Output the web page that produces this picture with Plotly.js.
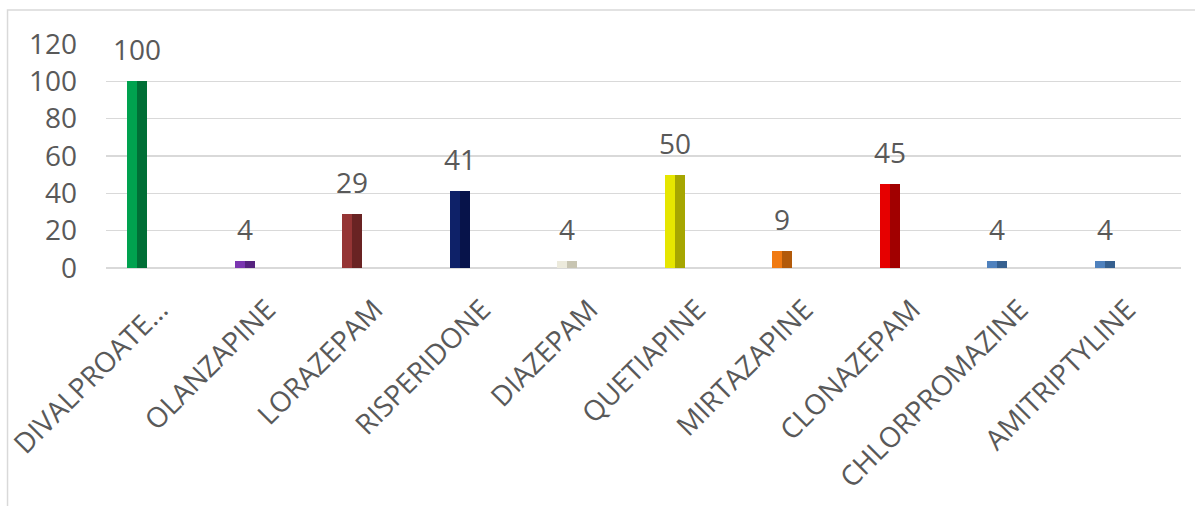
<!DOCTYPE html>
<html>
<head>
<meta charset="utf-8">
<script src="https://cdn.plot.ly/plotly-3.0.1.min.js"></script>
<style>
html,body{margin:0;padding:0;background:#fff;}
#chart{width:1195px;height:506px;}
</style>
</head>
<body>
<div id="chart"></div>
<script>
// Data
const categories = ["DIVALPROATE…", "OLANZAPINE", "LORAZEPAM", "RISPERIDONE", "DIAZEPAM",
                    "QUETIAPINE", "MIRTAZAPINE", "CLONAZEPAM", "CHLORPROMAZINE", "AMITRIPTYLINE"];
const values = [100, 4, 29, 41, 4, 50, 9, 45, 4, 4];
const yTicks = [0, 20, 40, 60, 80, 100, 120];

// Styles
const lightColors = ["#00A24F", "#7A36B0", "#953535", "#0E2168", "#ECEADC",
                     "#E6E600", "#F07A12", "#E60000", "#4F81BD", "#4F81BD"];
const darkColors  = ["#006F36", "#56237F", "#692323", "#07134A", "#C8C5B2",
                     "#A6A600", "#B25A0A", "#A10000", "#36608F", "#36608F"];
const halfW = 0.093;
const barShift = -0.21;   // bars sit slightly left of the category centre (as in the original)
const textColor = "#595959";
const font = "Open Sans, Lato, sans-serif";

const traces = [
  {
    type: "bar", x: categories, y: values,
    width: halfW, offset: barShift - halfW,
    marker: {color: lightColors, line: {width: 0}},
    hoverinfo: "skip", showlegend: false
  },
  {
    type: "bar", x: categories, y: values,
    width: halfW, offset: barShift,
    marker: {color: darkColors, line: {width: 0}},
    hoverinfo: "skip", showlegend: false
  }
];

const annotations = categories.map((c, i) => ({
  x: c, y: values[i], xref: "x", yref: "y",
  text: String(values[i]), showarrow: false,
  yanchor: "bottom", yshift: 11, xshift: -22.5,
  font: {family: font, size: 28, color: textColor}
}));

const layout = {
  width: 1195, height: 506,
  margin: {l: 106, r: 14, t: 44, b: 238},
  paper_bgcolor: "#ffffff", plot_bgcolor: "#ffffff",
  barmode: "overlay",
  bargap: 0,
  xaxis: {
    type: "category",
    tickangle: -45,
    showgrid: false, zeroline: false,
    showline: false,
    ticks: "outside", ticklen: 13, tickcolor: "rgba(0,0,0,0)",
    tickfont: {family: font, size: 28, color: textColor},
    fixedrange: true
  },
  yaxis: {
    range: [0, 120],
    tickvals: yTicks,
    ticktext: yTicks.map(String),
    showgrid: true, gridcolor: "#D9D9D9", gridwidth: 1.5,
    zeroline: true, zerolinecolor: "#D9D9D9", zerolinewidth: 1.5,
    showline: false,
    ticks: "", ticklabelstandoff: 28,
    tickfont: {family: font, size: 28, color: textColor},
    fixedrange: true
  },
  annotations: annotations,
  shapes: [{
    type: "rect", xref: "paper", yref: "paper",
    x0: -0.0916, x1: 1.05, y0: -1.2, y1: 1.1518,
    line: {color: "#D9D9D9", width: 1.5}, fillcolor: "rgba(0,0,0,0)",
    layer: "below"
  }]
};

Plotly.newPlot("chart", traces, layout, {displayModeBar: false, staticPlot: true});
</script>
</body>
</html>
